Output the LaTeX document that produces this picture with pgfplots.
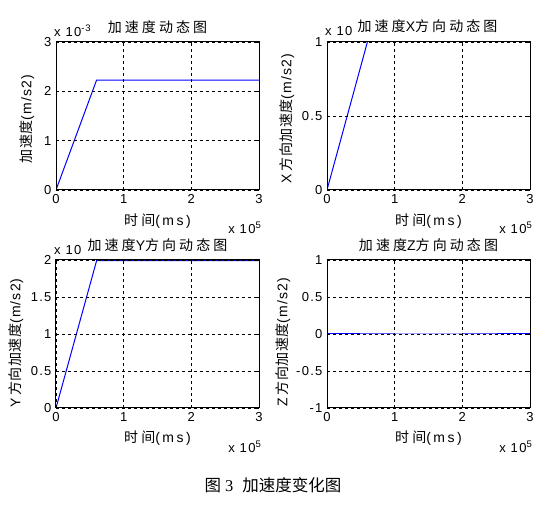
\documentclass[border=0pt]{standalone}
\usepackage{pgfplots}
\pgfplotsset{compat=1.18}
\usepackage{fontspec}
\setmainfont{Liberation Sans}[LetterSpace=10]
\newfontfamily\cjk{Noto Sans CJK SC}[LetterSpace=22]
\newfontfamily\lat{Liberation Sans}[LetterSpace=18]
\newfontfamily\ycjk{Noto Sans CJK SC}[LetterSpace=4]
\newfontfamily\ylat{Liberation Sans}[LetterSpace=8]
\newfontfamily\capcjk{Noto Sans CJK SC}
\newfontfamily\capser{Liberation Serif}
\newcommand{\fs}{\fontsize{13}{15}\selectfont}
\newcommand{\fl}{\fontsize{14}{16}\selectfont}
\newcommand{\sups}[1]{\raisebox{0.7ex}{\fontsize{9.5}{10}\selectfont #1}}
\pgfplotsset{
  mat/.style={
    scale only axis, width=203pt, height=148pt,
    anchor=south west,
    xmin=0, xmax=3, xtick={0,1,2,3},
    grid=major,
    major grid style={black, dash pattern=on 3pt off 3pt, line width=0.8pt},
    axis line style={black, line width=1pt},
    tick align=inside, major tick length=3pt,
    tick style={black, line width=0.8pt},
    axis on top,
    ticklabel style={font=\fs},
    /pgf/number format/assume math mode=true,
    xticklabel style={yshift=-1pt},
    yticklabel style={xshift=-1pt},
    clip=true,
  },
  ln/.style={blue, line width=1pt},
}
\begin{document}
\begin{tikzpicture}[x=1pt,y=1pt]
\useasboundingbox (0pt,0pt) rectangle (555pt,518pt);
% top-left
\begin{axis}[mat, at={(56pt,328pt)}, ymin=0, ymax=3, ytick={0,1,2,3}]
\addplot[ln] coordinates {(0,0) (0.6,2.228) (3,2.228)};
\end{axis}
% top-right
\begin{axis}[mat, at={(327pt,328pt)}, ymin=0, ymax=1, ytick={0,0.5,1}, yticklabels={0,0.5,1}]
\addplot[ln] coordinates {(0,0) (0.6,1.005) (3,1.005)};
\end{axis}
% bottom-left
\begin{axis}[mat, at={(56pt,110pt)}, ymin=0, ymax=2, ytick={0,0.5,1,1.5,2}, yticklabels={0,0.5,1,1.5,2}]
\addplot[ln] coordinates {(0,0) (0.6,1.99) (3,1.99)};
\end{axis}
% bottom-right
\begin{axis}[mat, at={(327pt,110pt)}, ymin=-1, ymax=1, ytick={-1,-0.5,0,0.5,1}, yticklabels={-1,-0.5,0,0.5,1}]
\addplot[ln] coordinates {(0,0) (1,0) (2,0) (3,0)};
\end{axis}
% titles
\node[font=\fl] at (157.5pt,491pt) {{\cjk 加速度动态图}};
\node[font=\fl] at (427.5pt,492pt) {{\cjk 加速度}{\lat X}{\cjk 方向动态图}};
\node[font=\fl] at (157.5pt,273pt) {{\cjk 加速度}{\lat Y}{\cjk 方向动态图}};
\node[font=\fl] at (428.5pt,273pt) {{\cjk 加速度}{\lat Z}{\cjk 方向动态图}};
% exponents
\node[font=\fs, anchor=west, inner sep=0pt] at (54pt,487pt) {x 10\sups{-3}};
\node[font=\fs, anchor=west, inner sep=0pt] at (325pt,487pt) {x 10};
\node[font=\fs, anchor=west, inner sep=0pt] at (54pt,268pt) {x 10};
\node[font=\fs, anchor=east, inner sep=0pt] at (261pt,290pt) {x 10\sups{5}};
\node[font=\fs, anchor=east, inner sep=0pt] at (532pt,290pt) {x 10\sups{5}};
\node[font=\fs, anchor=east, inner sep=0pt] at (261pt,71pt) {x 10\sups{5}};
\node[font=\fs, anchor=east, inner sep=0pt] at (532pt,71pt) {x 10\sups{5}};
% x labels
\node[font=\fl] at (157.5pt,297pt) {{\cjk 时间}{\lat (ms)}};
\node[font=\fl] at (428.5pt,297pt) {{\cjk 时间}{\lat (ms)}};
\node[font=\fl] at (157.5pt,80pt) {{\cjk 时间}{\lat (ms)}};
\node[font=\fl] at (428.5pt,80pt) {{\cjk 时间}{\lat (ms)}};
% y labels
\node[font=\fl, rotate=90] at (27pt,399pt) {{\ycjk 加速度}{\ylat (m/s2)}};
\node[font=\fl, rotate=90] at (287pt,399.5pt) {{\ylat X\,}{\ycjk 方向加速度}{\ylat (m/s2)}};
\node[font=\fl, rotate=90] at (16pt,175pt) {{\ylat Y\,}{\ycjk 方向加速度}{\ylat (m/s2)}};
\node[font=\fl, rotate=90] at (283pt,176pt) {{\ylat Z\,}{\ycjk 方向加速度}{\ylat (m/s2)}};
% caption
\node[font=\fontsize{16.5}{18}\selectfont] at (273pt,32.5pt) {{\capcjk 图}\hspace{4pt}{\capser 3}\hspace{9pt}{\capcjk 加速度变化图}};
\end{tikzpicture}
\end{document}
